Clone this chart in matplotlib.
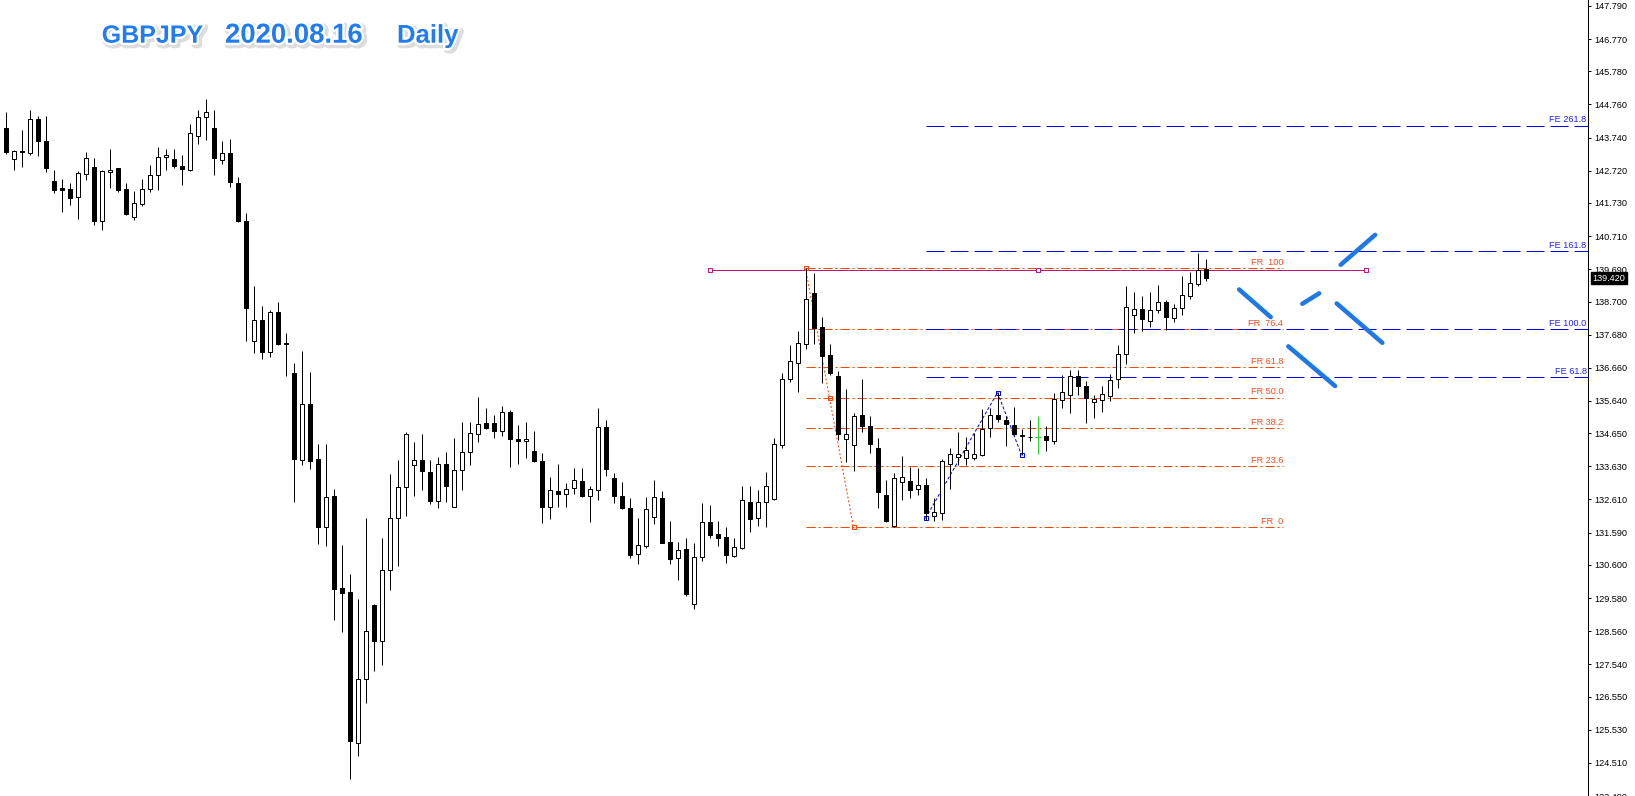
import matplotlib
matplotlib.use("Agg")
import matplotlib.pyplot as plt
import matplotlib.patheffects as pe
from matplotlib.lines import Line2D
import numpy as np

plt.rcParams['lines.scale_dashes'] = False

# ---------------- data ----------------
opens = [144.05, 143.09, 143.34, 143.27, 144.30, 143.65, 142.40, 142.18, 142.15, 141.90,
         142.63, 142.83, 141.18, 142.69, 142.80, 142.15, 141.31, 141.70, 142.17, 142.60,
         143.15, 143.09, 142.88, 142.74, 143.80, 144.38, 144.04, 143.06, 143.28, 142.34,
         141.17, 137.50, 138.13, 137.15, 138.37, 137.41, 136.50, 133.84, 135.55, 133.87,
         131.77, 132.73, 129.89, 129.77, 125.12, 127.08, 129.37, 128.25, 130.45, 132.03,
         132.98, 133.68, 133.84, 133.47, 132.57, 133.71, 132.38, 133.53, 134.08, 134.63,
         134.97, 134.97, 134.71, 135.31, 134.48, 134.41, 134.11, 133.78, 132.38, 132.86,
         132.78, 132.95, 133.19, 132.72, 132.89, 134.84, 133.28, 132.73, 132.36, 130.93,
         131.19, 132.06, 132.67, 131.29, 130.80, 131.08, 129.39, 130.83, 131.91, 131.55,
         131.45, 130.88, 131.12, 132.52, 132.03, 132.52, 132.61, 134.28, 136.32, 136.81,
         137.39, 138.96, 137.91, 137.05, 136.41, 134.48, 134.30, 135.22, 134.88, 134.20,
         132.76, 131.81, 133.16, 133.19, 132.92, 133.07, 132.09, 132.18, 133.71, 133.93,
         133.90, 133.90, 133.99, 134.82, 135.22, 135.06, 134.90, 134.58, 134.54, 134.53,
         134.55, 134.41, 135.66, 135.82, 136.42, 136.11, 135.60, 135.67, 135.79, 136.32,
         137.07, 138.28, 138.46, 138.10, 138.43, 138.68, 138.19, 138.50, 138.86, 139.23,
         139.69]
highs = [144.52, 143.35, 143.96, 144.60, 144.40, 144.40, 142.73, 142.48, 142.34, 142.70,
         143.29, 143.10, 142.73, 143.38, 142.82, 142.36, 142.09, 142.46, 142.89, 143.46,
         143.40, 143.38, 143.22, 144.17, 144.60, 144.94, 144.60, 143.65, 143.71, 142.54,
         141.42, 139.18, 138.57, 138.44, 138.68, 137.74, 136.82, 137.19, 136.54, 134.31,
         134.31, 132.93, 131.21, 130.32, 129.56, 132.04, 129.40, 131.42, 133.39, 133.82,
         134.70, 134.39, 134.61, 133.82, 133.93, 134.08, 134.51, 134.98, 135.00, 135.75,
         135.41, 135.22, 135.49, 135.35, 134.89, 134.98, 134.72, 134.05, 133.29, 133.69,
         133.13, 133.57, 133.57, 133.01, 135.43, 135.06, 133.44, 133.16, 132.65, 132.04,
         132.68, 133.20, 132.86, 131.94, 131.30, 131.42, 131.27, 132.49, 132.43, 131.94,
         131.75, 131.42, 133.04, 133.01, 132.89, 133.45, 134.51, 136.50, 137.36, 137.79,
         139.73, 139.58, 138.22, 137.38, 136.56, 136.01, 135.28, 136.32, 135.19, 134.51,
         133.22, 133.41, 133.96, 133.61, 133.59, 133.26, 132.67, 133.87, 134.20, 134.70,
         134.54, 134.66, 135.40, 135.43, 135.92, 135.19, 135.46, 134.79, 135.06, 135.17,
         134.88, 135.90, 136.43, 136.60, 136.60, 136.24, 135.81, 136.11, 136.46, 137.36,
         139.18, 138.99, 138.87, 138.99, 139.21, 138.74, 138.62, 139.48, 139.61, 140.19,
         140.00]
lows = [143.25, 142.76, 142.83, 143.22, 143.17, 142.68, 142.03, 141.46, 141.67, 141.23,
        142.44, 141.05, 140.90, 142.19, 142.07, 141.35, 141.21, 141.64, 142.07, 142.13,
        142.74, 142.80, 142.27, 142.71, 143.56, 143.68, 142.58, 142.92, 142.22, 141.15,
        137.50, 137.13, 136.92, 136.98, 137.35, 136.40, 132.54, 133.67, 133.55, 131.25,
        131.19, 128.89, 128.54, 124.02, 124.72, 126.35, 127.33, 127.51, 129.84, 130.55,
        132.11, 132.72, 132.91, 132.47, 132.34, 132.54, 132.37, 132.91, 133.67, 134.38,
        134.77, 134.49, 134.56, 133.61, 133.69, 133.88, 133.75, 131.88, 132.01, 132.38,
        132.38, 132.78, 132.69, 131.92, 132.60, 133.33, 132.50, 132.32, 130.82, 130.64,
        131.12, 131.85, 131.27, 130.64, 130.12, 129.63, 129.23, 130.73, 131.43, 131.19,
        130.67, 130.85, 131.10, 131.62, 131.80, 131.77, 132.59, 134.20, 136.22, 135.91,
        137.23, 137.38, 136.18, 136.43, 134.44, 133.77, 133.50, 134.69, 134.05, 132.35,
        131.91, 131.75, 132.58, 132.67, 132.76, 131.97, 131.94, 131.99, 132.92, 133.68,
        133.67, 133.81, 133.96, 134.53, 135.00, 134.27, 134.59, 133.98, 134.41, 134.01,
        134.10, 134.33, 135.41, 135.26, 135.82, 134.96, 135.11, 135.31, 135.64, 136.04,
        136.77, 137.73, 137.79, 137.93, 138.34, 137.82, 138.07, 138.29, 138.77, 139.17,
        139.32]
closes = [143.29, 143.32, 143.29, 144.30, 143.63, 142.80, 142.14, 142.14, 141.88, 142.64,
          143.10, 141.18, 142.70, 142.76, 142.13, 141.38, 141.74, 142.17, 142.60, 143.15,
          143.21, 142.87, 142.77, 143.87, 144.38, 144.53, 143.11, 143.28, 142.37, 141.17,
          138.51, 138.13, 137.15, 138.37, 137.38, 137.38, 133.85, 135.55, 133.79, 131.75,
          132.69, 129.87, 129.72, 125.18, 127.09, 128.57, 128.25, 130.43, 132.03, 132.98,
          134.63, 133.84, 133.49, 132.57, 133.71, 133.04, 133.53, 134.08, 134.66, 134.94,
          134.80, 134.71, 135.31, 134.46, 134.41, 134.48, 133.79, 132.38, 132.89, 132.78,
          132.92, 133.22, 132.72, 132.92, 134.84, 133.56, 132.72, 132.35, 130.91, 131.20,
          132.33, 132.70, 131.28, 130.79, 131.07, 129.69, 130.85, 131.91, 131.53, 131.43,
          130.91, 131.14, 132.58, 132.02, 132.52, 133.04, 134.33, 136.32, 136.87, 137.42,
          138.77, 137.90, 137.01, 136.49, 134.62, 134.61, 135.19, 134.88, 134.31, 132.84,
          131.96, 133.26, 133.31, 132.89, 133.07, 132.21, 132.24, 133.78, 134.02, 134.00,
          134.14, 134.00, 134.79, 135.22, 135.09, 134.93, 134.63, 134.56, 134.52, 134.53,
          134.44, 135.71, 135.92, 136.42, 136.10, 135.74, 135.71, 135.86, 136.29, 137.09,
          138.53, 138.46, 138.16, 138.43, 138.68, 138.22, 138.50, 138.89, 139.26, 139.66,
          139.42]
green_doji = [129]

# y-axis tick labels
yticks = [147.790, 146.770, 145.780, 144.760, 143.740, 142.720, 141.730, 140.710,
          139.690, 138.700, 137.680, 136.660, 135.640, 134.650, 133.630, 132.610,
          131.590, 130.600, 129.580, 128.560, 127.540, 126.550, 125.530, 124.510, 123.490]
last_price = 139.420

# Fibonacci retracement (anchor bars / prices)
fr_bars = [100, 106]
fr_prices = [139.72, 131.75]
fr_ratios = [0.0, 23.6, 38.2, 50.0, 61.8, 76.4, 100.0]
fr_labels = ["FR  0", "FR 23.6", "FR 38.2", "FR 50.0", "FR 61.8", "FR  76.4", "FR  100"]
fr_end_bar = 159.7

# Fibonacci expansion A-B-C
fe_bars = [115, 124, 127]
fe_prices = [132.03, 135.90, 133.98]
fe_ratios = [61.8, 100.0, 161.8, 261.8]
fe_labels = ["FE 61.8", "FE 100.0", "FE 161.8", "FE 261.8"]

# horizontal magenta line
hl_price = 139.67
hl_bars = [88, 129, 170]

# hand-drawn blue strokes: (bar0, price0, bar1, price1)
strokes = [
    (154.2, 139.07, 158.15, 138.22),
    (162.1, 138.63, 164.2, 138.95),
    (166.4, 138.64, 172.1, 137.43),
    (160.35, 137.32, 166.2, 136.10),
    (166.9, 139.83, 171.2, 140.75),
]

title_parts = ["GBPJPY", "2020.08.16", "Daily"]

# ---------------- figure ----------------
W, H, DPI = 1635, 796, 100
AXW = 1588
fig = plt.figure(figsize=(W / DPI, H / DPI), dpi=DPI)
ax = fig.add_axes([0, 0, AXW / W, 1])
ax.set_xlim(-5.5 / 8, (AXW - 5.5) / 8)
ax.set_ylim(147.79 - 790 / 32.63, 147.79 + 6 / 32.63)

PX = 72.0 / DPI  # points per pixel

ORANGE = '#FF4500'
ORANGE_T = '#FF4A1C'
BLUE = '#0000FF'
MAG = '#C0157F'
STROKE = '#1E78E6'

# fib retracement lines
lo, hi = fr_prices[1], fr_prices[0]
for r, lab in zip(fr_ratios, fr_labels):
    lvl = lo + (hi - lo) * r / 100.0
    ln, = ax.plot([fr_bars[0], fr_end_bar], [lvl, lvl], color=ORANGE, lw=1 * PX, zorder=1)
    ln.set_dashes([9 * PX, 3 * PX, 2 * PX, 3 * PX])
    ax.annotate(lab, (fr_end_bar, lvl), xytext=(0, 1.2), textcoords='offset points',
                ha='right', va='bottom', color=ORANGE_T, fontsize=6.6,
                family='Liberation Sans', zorder=5)
# fib diagonal
ln, = ax.plot(fr_bars, fr_prices, color=ORANGE, lw=1 * PX, zorder=4)
ln.set_dashes([2 * PX, 2 * PX])
mid_b = (fr_bars[0] + fr_bars[1]) / 2
mid_p = (fr_prices[0] + fr_prices[1]) / 2
ax.plot([fr_bars[0], mid_b, fr_bars[1]], [fr_prices[0], mid_p, fr_prices[1]], ls='none',
        marker='s', ms=4 * PX, mfc='none', mec=ORANGE, mew=1 * PX, zorder=5)

# fib expansion lines
A, B, C = fe_prices
for r, lab in zip(fe_ratios, fe_labels):
    lvl = C + (B - A) * r / 100.0
    ln, = ax.plot([fe_bars[0], ax.get_xlim()[1]], [lvl, lvl], color=BLUE, lw=1 * PX, zorder=1)
    ln.set_dashes([18 * PX, 6 * PX])
    ax.annotate(lab, (1.0, lvl), xycoords=ax.get_yaxis_transform(), xytext=(-1, 1),
                textcoords='offset points', ha='right', va='bottom', color='#2020FF',
                fontsize=6.6, family='Liberation Sans', zorder=5)
ln, = ax.plot(fe_bars, fe_prices, color=BLUE, lw=1 * PX, zorder=4)
ln.set_dashes([3 * PX, 2 * PX])
ax.plot(fe_bars, fe_prices, ls='none', marker='s', ms=4 * PX, mfc='none', mec=BLUE,
        mew=1 * PX, zorder=5)

# magenta horizontal line
ax.plot([hl_bars[0], hl_bars[-1]], [hl_price, hl_price], color=MAG, lw=1 * PX, zorder=4)
ax.plot(hl_bars, [hl_price] * len(hl_bars), ls='none', marker='s', ms=4 * PX, mfc='white',
        mec=MAG, mew=1 * PX, zorder=5)

# candles
x = np.arange(len(opens))
for i in x:
    o, h, l, c = opens[i], highs[i], lows[i], closes[i]
    col = '#22DD22' if i in green_doji else 'black'
    ax.plot([i, i], [l, h], color=col, lw=1 * PX, solid_capstyle='butt', zorder=6)
    bottom = min(o, c)
    height = max(abs(c - o), 0.02)
    if i in green_doji:
        ax.plot([i - 0.3, i + 0.3], [c, c], color=col, lw=1 * PX, zorder=7)
        continue
    fc = 'white' if c > o else 'black'
    ax.bar(i, height, bottom=bottom - (height - abs(c - o)) / 2, width=0.5, color=fc,
           edgecolor='black', linewidth=1 * PX, zorder=7)

# hand drawn strokes
for b0, p0, b1, p1 in strokes:
    ax.plot([b0, b1], [p0, p1], color=STROKE, lw=4.5 * PX, solid_capstyle='round', zorder=8)

# axes styling
for s in ['left', 'top', 'bottom']:
    ax.spines[s].set_visible(False)
ax.spines['right'].set_linewidth(1 * PX)
ax.set_xticks([])
ax.yaxis.tick_right()
ax.set_yticks(yticks)
ax.set_yticklabels([f"{v:.3f}" for v in yticks], fontsize=6.6, family='Liberation Sans')
ax.tick_params(axis='y', length=3 * PX, width=1 * PX, pad=2.2, colors='black')

# current price box
ax.text(1.0028, last_price, f"{last_price:.3f}", transform=ax.get_yaxis_transform(),
        ha='left', va='center', color='white', fontsize=6.6, family='Liberation Sans',
        bbox=dict(boxstyle='square,pad=0.18', fc='black', ec='black'), zorder=10,
        clip_on=False)

# right border line
fig.add_artist(Line2D([1634.5 / W, 1634.5 / W], [0, 1], color='#C8C8C8', lw=1 * PX))

# title
title_x = [101.7, 225.0, 397.0]
title_sz = [18.0, 19.8, 18.5]
for t, tx, sz in zip(title_parts, title_x, title_sz):
    fig.text(tx / W, (H - 42.7) / H, t, ha='left', va='baseline', color='#1F7CF2',
             fontsize=sz, fontweight='bold', family='Liberation Sans',
             path_effects=[pe.Stroke(linewidth=5, foreground='#B4B4B4', alpha=0.45,
                                     offset=(1.5, -1.5)),
                           pe.Stroke(linewidth=3.5, foreground='white'),
                           pe.Normal()])

fig.savefig('out.png', dpi=DPI)
